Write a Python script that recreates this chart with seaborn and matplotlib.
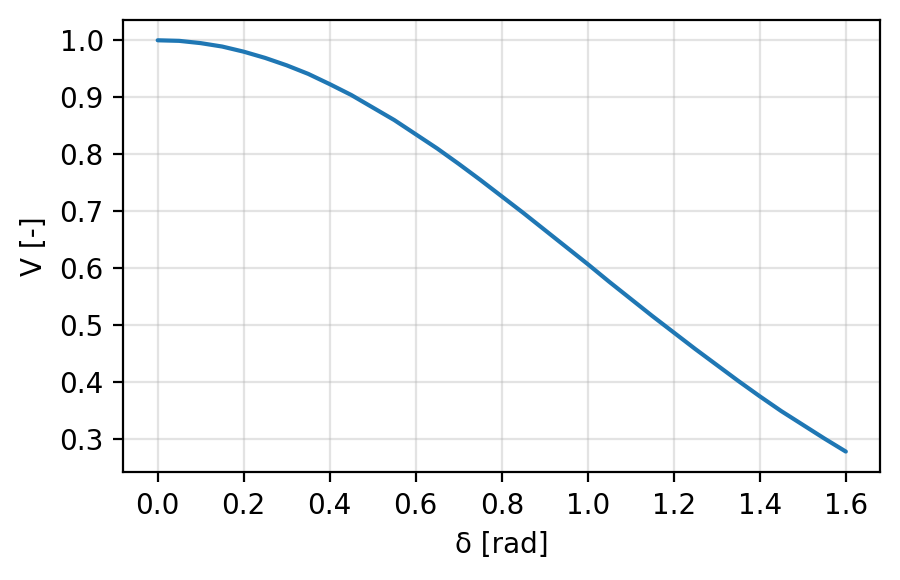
import matplotlib
matplotlib.use("Agg")
import matplotlib.pyplot as plt
import seaborn as sns
import pandas as pd

delta = [0.00, 0.05, 0.10, 0.15, 0.20, 0.25, 0.30, 0.35, 0.40, 0.45, 0.50,
         0.55, 0.60, 0.65, 0.70, 0.75, 0.80, 0.85, 0.90, 0.95, 1.00, 1.05,
         1.10, 1.15, 1.20, 1.25, 1.30, 1.35, 1.40, 1.45, 1.50, 1.55, 1.60]
V = [1.000, 0.999, 0.995, 0.989, 0.980, 0.969, 0.956, 0.941, 0.923, 0.904, 0.882,
     0.860, 0.835, 0.810, 0.783, 0.755, 0.726, 0.697, 0.667, 0.637, 0.607, 0.576,
     0.546, 0.516, 0.487, 0.458, 0.430, 0.402, 0.375, 0.349, 0.325, 0.301, 0.278]

df = pd.DataFrame({"delta": delta, "V": V})

sns.set_style("ticks")
plt.rcParams['font.family'] = ['DejaVu Sans']
fig, ax = plt.subplots(figsize=(4.5, 2.9), dpi=200)
fig.subplots_adjust(left=0.137, right=0.978, top=0.966, bottom=0.186)
sns.lineplot(data=df, x="delta", y="V", ax=ax, color="#1f77b4", linewidth=1.5)
ax.grid(True, color="#b0b0b0", alpha=0.35, linewidth=0.8)
ax.set_xticks([0.0, 0.2, 0.4, 0.6, 0.8, 1.0, 1.2, 1.4, 1.6])
ax.set_yticks([0.3, 0.4, 0.5, 0.6, 0.7, 0.8, 0.9, 1.0])
ax.set_xlabel("δ [rad]", color="black", fontsize=10)
ax.set_ylabel("V [-]", color="black", fontsize=10)
for s in ax.spines.values():
    s.set_visible(True)
    s.set_color("black")
    s.set_linewidth(0.8)
ax.tick_params(labelsize=10, color="black", labelcolor="black")
fig.savefig("out.png", dpi=200)
